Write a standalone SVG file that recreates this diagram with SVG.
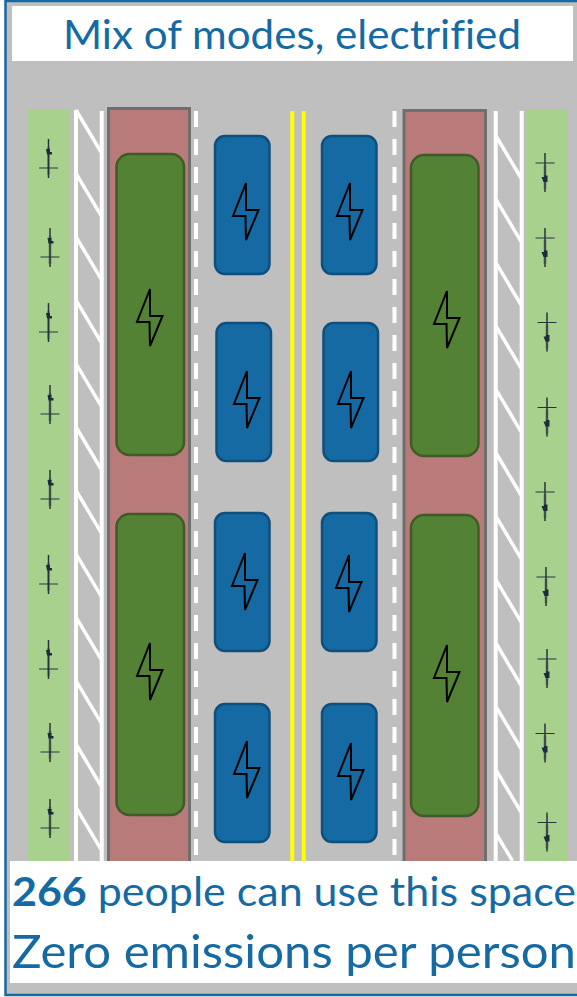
<svg xmlns="http://www.w3.org/2000/svg" width="577" height="997" viewBox="0 0 577 997">
<style>
.t{font-family:"Lato","Liberation Sans",sans-serif;fill:#156aa3;font-variant-ligatures:none}
.bus{fill:#548235;stroke:#3d5c28;stroke-width:2.5}
.car{fill:#156aa3;stroke:#0f4f7d;stroke-width:2.5}
.lane{fill:#b97a7a;stroke:#6f6f6f;stroke-width:3}
.w{stroke:#fff;stroke-width:4;fill:none}
.d{stroke:#fff;stroke-width:3.500;fill:none}
.dash{stroke:#fff;stroke-width:4;stroke-dasharray:16 12;fill:none}
.y{stroke:#ffff00;stroke-width:4}
.bolt{fill:none;stroke:#000;stroke-width:2}
.cy{stroke:#26343c;stroke-width:1.500;fill:none}
.bar{stroke:#26343c;stroke-width:1;fill:none}
.halo{stroke:#5f7470;stroke-width:3;fill:none;opacity:.6}
.blob{fill:#1d2b3a}
.strip{fill:#a9d18e}
</style>
<defs>
<path id="bolt" class="bolt" d="M0,0 L0,27 L12.500,27 L0,57 L-0.500,33 L-13,33 Z"/>
<g id="cyL"><path class="halo" d="M0,8V36"/><path class="cy" d="M0,0V39"/><path class="bar" d="M-9.500,29H9.500"/><path class="blob" d="M-2.500,10H1.500V13H3.500V15.500H-1.500Z"/></g>
<g id="cyR"><path class="halo" d="M0,12V36"/><path class="cy" d="M0,0V39"/><path class="bar" d="M-9.500,10H9.500"/><path class="blob" d="M-3.500,24H-1V22.500H2.500V29H-1.500Z"/></g>
</defs>
<rect x="0" y="0" width="577" height="997" fill="#fff"/>
<rect id="road" x="5.500" y="1" width="600" height="994" fill="#bfbfbf" stroke="#156aa3" stroke-width="2.500"/>
<g id="markings">
<rect class="strip" x="28" y="109" width="42" height="752"/>
<rect class="strip" x="526" y="109" width="42" height="752"/>
<path class="w" d="M76,110V861M101.700,111V861"/>
<path class="d" d="M76,110L101,152M76,173.400L101,215.400M76,236.800L101,278.800M76,300.200L101,342.200M76,363.600L101,405.600M76,427L101,469M76,490.400L101,532.400M76,553.800L101,595.800M76,617.200L101,659.200M76,680.600L101,722.600M76,744L101,786M76,807.400L101,849.400"/>
<path class="w" d="M495.700,111V861M521.700,111V861"/>
<path class="d" d="M496,136L521,178M496,199.400L521,241.400M496,262.800L521,304.800M496,326.200L521,368.200M496,389.600L521,431.600M496,453L521,495M496,516.400L521,558.400M496,579.800L521,621.800M496,643.200L521,685.200M496,706.600L521,748.600M496,770L521,812M496,833.400L512.500,861"/>
<rect class="lane" x="108.500" y="108.500" width="81" height="760"/>
<rect class="lane" x="404" y="110.500" width="81.500" height="760"/>
<path class="dash" d="M196,111V861M394.500,111V861"/>
<path class="y" d="M292.300,111V861M303.700,111V861"/>
</g>
<g id="bus1"><rect class="bus" x="116.500" y="154" width="67.500" height="301" rx="13"/><use href="#bolt" x="150" y="289"/></g>
<g id="bus2"><rect class="bus" x="116.500" y="514" width="67.500" height="301" rx="13"/><use href="#bolt" x="150" y="643"/></g>
<g id="bus3"><rect class="bus" x="411" y="155" width="67.500" height="301" rx="13"/><use href="#bolt" x="447" y="291"/></g>
<g id="bus4"><rect class="bus" x="411" y="515" width="67.500" height="301" rx="13"/><use href="#bolt" x="447" y="645"/></g>
<g id="car1"><rect class="car" x="215" y="136" width="54.500" height="138" rx="10"/><use href="#bolt" x="246" y="183"/></g>
<g id="car2"><rect class="car" x="216.500" y="323" width="54.500" height="138" rx="10"/><use href="#bolt" x="247" y="371"/></g>
<g id="car3"><rect class="car" x="215" y="513" width="54.500" height="138" rx="10"/><use href="#bolt" x="245" y="553"/></g>
<g id="car4"><rect class="car" x="215" y="704" width="54.500" height="138" rx="10"/><use href="#bolt" x="247" y="741"/></g>
<g id="car5"><rect class="car" x="322" y="136" width="54.500" height="138" rx="10"/><use href="#bolt" x="350" y="183"/></g>
<g id="car6"><rect class="car" x="323.500" y="323" width="54.500" height="138" rx="10"/><use href="#bolt" x="351" y="371"/></g>
<g id="car7"><rect class="car" x="322" y="513" width="54.500" height="138" rx="10"/><use href="#bolt" x="349" y="555"/></g>
<g id="car8"><rect class="car" x="322" y="704" width="54.500" height="138" rx="10"/><use href="#bolt" x="351" y="743"/></g>
<g id="cyclists">
<use href="#cyL" x="48.500" y="139"/><use href="#cyL" x="50" y="228"/><use href="#cyL" x="48.500" y="303"/><use href="#cyL" x="50" y="385"/><use href="#cyL" x="50" y="470"/><use href="#cyL" x="48.500" y="555"/><use href="#cyL" x="48.500" y="640"/><use href="#cyL" x="50" y="723"/><use href="#cyL" x="50" y="799"/>
<use href="#cyR" x="545" y="153"/><use href="#cyR" x="545" y="228"/><use href="#cyR" x="547" y="312.500"/><use href="#cyR" x="547" y="397.500"/><use href="#cyR" x="545" y="482"/><use href="#cyR" x="546" y="567"/><use href="#cyR" x="547" y="649"/><use href="#cyR" x="545" y="723.500"/><use href="#cyR" x="547" y="812.500"/>
</g>
<g id="title"><rect x="12" y="6" width="561" height="55" fill="#fff"/>
<text class="t" x="63" y="49" font-size="41" textLength="458" lengthAdjust="spacingAndGlyphs">Mix of modes, electrified</text></g>
<g id="caption"><rect x="10" y="861" width="567" height="122" fill="#fff"/>
<text class="t" x="12" y="906" font-size="40" textLength="564" lengthAdjust="spacingAndGlyphs"><tspan font-weight="700">266</tspan> people can use this space</text>
<text class="t" x="12" y="968" font-size="47" textLength="564" lengthAdjust="spacingAndGlyphs">Zero emissions per person</text></g>
</svg>
